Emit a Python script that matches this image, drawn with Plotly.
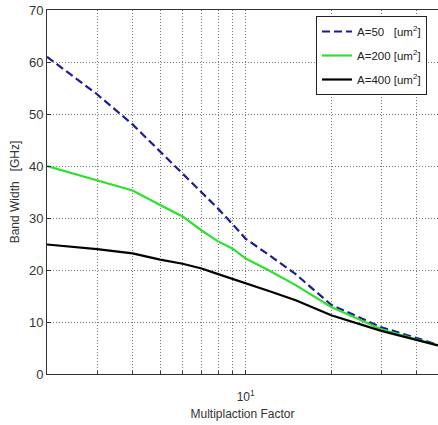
import plotly.graph_objects as go

# Data
mult_factor = [2, 3, 4, 5, 6, 7, 8, 9, 10, 12, 15, 20, 30, 40, 47.5]
bw_a50 = [61.0, 53.8, 48.0, 42.8, 38.6, 35.0, 31.8, 28.8, 26.0, 23.0, 19.2, 13.3, 9.0, 6.9, 5.6]
bw_a200 = [40.0, 37.3, 35.3, 32.5, 30.3, 27.6, 25.5, 24.1, 22.2, 20.0, 17.1, 12.9, 8.6, 6.6, 5.5]
bw_a400 = [24.9, 24.0, 23.2, 22.0, 21.2, 20.3, 19.2, 18.3, 17.4, 16.0, 14.2, 11.3, 8.3, 6.6, 5.5]

series_names = ["A=50\u00a0\u00a0\u00a0[um<sup>2</sup>]", "A=200 [um<sup>2</sup>]", "A=400 [um<sup>2</sup>]"]

x_major_ticks = [10]
x_major_text = ["10<sup>1</sup>"]
x_minor_ticks = [2, 3, 4, 5, 6, 7, 8, 9, 20, 30, 40]
y_tickvals = [0, 10, 20, 30, 40, 50, 60, 70]

FONT = "Liberation Sans, Arial, sans-serif"

fig = go.Figure()
fig.add_trace(go.Scatter(x=mult_factor, y=bw_a50, mode="lines", name=series_names[0], legendgroup="a",
                         line=dict(color="#1c1c96", width=2.2, dash="8px,4px")))
fig.add_trace(go.Scatter(x=mult_factor, y=bw_a200, mode="lines", name=series_names[1], legendgroup="b",
                         line=dict(color="#2ee02e", width=2.2)))
fig.add_trace(go.Scatter(x=mult_factor, y=bw_a400, mode="lines", name=series_names[2], legendgroup="c",
                         line=dict(color="#000000", width=2.2)))

grid = dict(showgrid=True, gridcolor="#777777", griddash="1px,2px", gridwidth=1)

fig.update_layout(
    width=438, height=425,
    margin=dict(l=47, r=0, t=10, b=51, autoexpand=False),
    paper_bgcolor="white", plot_bgcolor="white",
    font=dict(family=FONT, size=13, color="#333333"),
    showlegend=True,
    legend=dict(x=(316 - 47) / 391, y=(374 - 16) / 364, xanchor="left", yanchor="top",
                bgcolor="white", bordercolor="#222222", borderwidth=1,
                font=dict(family=FONT, size=11.5, color="#222222"),
                tracegroupgap=5),
    xaxis=dict(type="log", range=[0.30103, 1.6767], automargin=False,
               tickvals=x_major_ticks, ticktext=x_major_text,
               minor=dict(tickvals=x_minor_ticks, ticks="inside", ticklen=3,
                          tickcolor="#333333", **grid),
               **grid,
               showline=True, linecolor="#333333", linewidth=1, mirror=True,
               ticks="inside", ticklen=4, tickcolor="#333333",
               ticklabelstandoff=12,
               tickfont=dict(family=FONT, size=12, color="#333333"),
               zeroline=False,
               title=dict(text="Multiplaction Factor", standoff=6,
                          font=dict(family=FONT, size=12, color="#333333"))),
    yaxis=dict(range=[0, 70], tickvals=y_tickvals, automargin=False,
               **grid,
               showline=True, linecolor="#333333", linewidth=1, mirror=False,
               ticks="inside", ticklen=4, tickcolor="#333333",
               tickfont=dict(family=FONT, size=13, color="#333333"),
               zeroline=False,
               title=dict(text="Band Width\u00a0\u00a0\u00a0[GHz]", standoff=6,
                          font=dict(family=FONT, size=12, color="#333333"))),
)

fig.write_html("out.html", config={"displayModeBar": False},
               post_script="document.body.style.margin='0';")
